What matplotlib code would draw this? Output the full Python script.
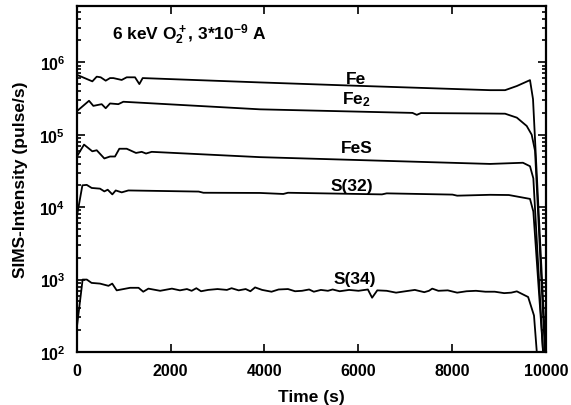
import matplotlib
matplotlib.use("Agg")
import matplotlib.pyplot as plt
from matplotlib.ticker import LogLocator, NullFormatter, FixedLocator

plt.rcParams['font.family'] = ['Liberation Sans', 'DejaVu Sans']
plt.rcParams['font.weight'] = 'bold'
plt.rcParams['mathtext.fontset'] = 'custom'
plt.rcParams['mathtext.rm'] = 'Liberation Sans:bold'
plt.rcParams['mathtext.it'] = 'Liberation Sans:bold'
plt.rcParams['mathtext.bf'] = 'Liberation Sans:bold'

# Fe
fe_t = [0, 337, 430, 515, 621, 713, 784, 961, 1068, 1245, 1337, 1408, 3905, 5950,
        8800, 9120, 9370, 9650, 9714, 9990]
fe_v = [6.75e5, 5.45e5, 6.33e5, 6.2e5, 5.57e5, 6.05e5, 6.05e5, 5.7e5, 6.2e5, 6.2e5,
        5.0e5, 6.05e5, 5.27e5, 4.74e5, 4.12e5, 4.12e5, 4.7e5, 5.67e5, 3.1e5, 80]

# Fe2
fe2_t = [0, 266, 358, 536, 621, 713, 890, 996, 3905, 7150, 7240, 7330, 8800, 9120,
         9370, 9580, 9686, 9757, 9975]
fe2_v = [2.09e5, 2.94e5, 2.5e5, 2.64e5, 2.32e5, 2.7e5, 2.64e5, 2.85e5, 2.24e5,
         2.0e5, 1.88e5, 1.99e5, 1.96e5, 1.95e5, 1.72e5, 1.32e5, 1.0e5, 6.0e4, 80]

# FeS
fes_t = [0, 160, 336, 430, 592, 713, 819, 911, 1068, 1266, 1387, 1479, 1600, 3905,
         8800, 9500, 9650, 9721, 9935]
fes_v = [4.9e4, 7.3e4, 5.9e4, 6.1e4, 4.7e4, 5.0e4, 5.0e4, 6.4e4, 6.4e4, 5.6e4,
         5.8e4, 5.5e4, 5.8e4, 4.9e4, 3.95e4, 4.1e4, 3.67e4, 2.5e4, 80]

# S(32)
s32_t = [0, 125, 217, 323, 500, 592, 664, 762, 834, 962, 1103, 2600, 2700, 3905,
         4400, 4500, 6500, 6600, 8000, 8100, 8800, 9200, 9650, 9721, 9940]
s32_v = [7e3, 2.0e4, 2.03e4, 1.84e4, 1.8e4, 1.65e4, 1.74e4, 1.5e4, 1.7e4, 1.6e4,
         1.7e4, 1.64e4, 1.58e4, 1.57e4, 1.52e4, 1.58e4, 1.5e4, 1.55e4, 1.49e4,
         1.44e4, 1.48e4, 1.47e4, 1.3e4, 8.7e3, 80]

# S(34)
s34_t = [0, 130, 220, 320, 500, 680, 760, 855, 1000, 1140, 1320, 1420, 1530, 1780,
         2030, 2200, 2350, 2450, 2550, 2650, 2800, 3000, 3200, 3300, 3450, 3600,
         3700, 3800, 3950, 4150, 4300, 4500, 4650, 4800, 4950, 5050, 5200, 5350,
         5450, 5600, 5800, 6000, 6200, 6290, 6400, 6600, 6800, 7000, 7200, 7400,
         7500, 7570, 7700, 7900, 8100, 8300, 8500, 8700, 8900, 9100, 9250, 9370,
         9610, 9735, 9800]
s34_v = [200, 1000, 1000, 900, 880, 820, 880, 710, 740, 770, 770, 680, 750, 700,
         750, 710, 740, 700, 760, 690, 720, 740, 720, 760, 710, 740, 690, 780, 720,
         680, 730, 740, 690, 700, 730, 680, 720, 700, 730, 690, 720, 700, 730, 562,
         710, 700, 660, 690, 720, 670, 700, 750, 700, 710, 660, 690, 700, 680, 680,
         650, 660, 688, 575, 319, 90]

series = [(fe_t, fe_v), (fe2_t, fe2_v), (fes_t, fes_v), (s32_t, s32_v), (s34_t, s34_v)]
names = ['Fe', 'Fe$_2$', 'FeS', 'S(32)', 'S(34)']
name_x = [5950, 5960, 5970, 5860, 5930]
name_y = [6.0e5, 3.1e5, 6.6e4, 2.02e4, 1.03e3]

fig = plt.figure(figsize=(5.71, 4.06), dpi=100)
ax = fig.add_axes([0.134, 0.1305, 0.823, 0.8525])

for t, v in series:
    ax.plot(t, v, color='black', lw=1.3)

for n, x, y in zip(names, name_x, name_y):
    ax.text(x, y, n, ha='center', va='center', fontsize=12.5, fontweight='bold')

ax.text(0.075, 0.905, r'6 keV O$_2^+$, 3*10$^{-9}$ A', transform=ax.transAxes,
        fontsize=12.5, fontweight='bold', va='baseline')

ax.set_yscale('log')
ax.set_xlim(0, 10000)
ax.set_ylim(100, 6e6)
ax.xaxis.set_major_locator(FixedLocator([0, 2000, 4000, 6000, 8000, 10000]))
ax.yaxis.set_minor_locator(LogLocator(base=10, subs=range(2, 10), numticks=20))
ax.yaxis.set_minor_formatter(NullFormatter())
ax.set_yticks([1e2, 1e3, 1e4, 1e5, 1e6])
ax.set_yticklabels([r'10$^2$', r'10$^3$', r'10$^4$', r'10$^5$', r'10$^6$'])

ax.tick_params(which='both', direction='in', top=True, right=True, labelsize=11.5,
               width=1.2)
ax.tick_params(which='major', length=6, pad=8)
ax.tick_params(which='minor', length=3)
for s in ax.spines.values():
    s.set_linewidth(1.6)

ax.set_xlabel('Time (s)', fontsize=12.5, fontweight='bold', labelpad=8)
ax.set_ylabel('SIMS-Intensity (pulse/s)', fontsize=12.5, fontweight='bold', labelpad=8)

fig.savefig('out.png', dpi=100)
